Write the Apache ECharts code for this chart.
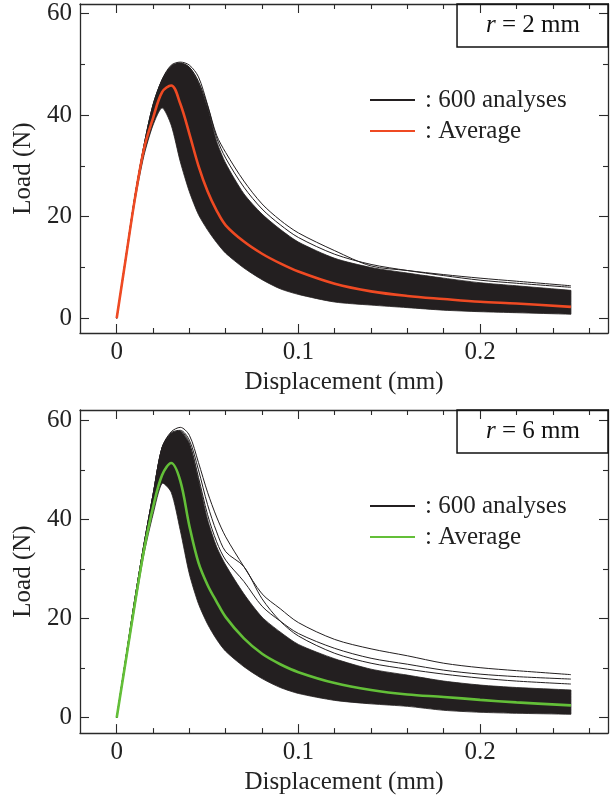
<!DOCTYPE html>
<html><head><meta charset="utf-8">
<script src="https://cdn.jsdelivr.net/npm/echarts@6/dist/echarts.min.js"></script>
<style>html,body{margin:0;padding:0;background:#fff}#c1,#c2{width:613px;height:400px}</style>
</head><body><div id="c1"></div><div id="c2"></div>
<script>
// ---- data ----
const xGrid = [0, 0.005, 0.01, 0.015, 0.02, 0.025, 0.03, 0.035, 0.04, 0.045, 0.05, 0.055, 0.06, 0.07, 0.08, 0.09, 0.10, 0.12, 0.14, 0.16, 0.18, 0.20, 0.22, 0.25];
const xTickMajor = [0, 0.1, 0.2];
const xTickMinor = [0.02, 0.04, 0.06, 0.08, 0.12, 0.14, 0.16, 0.18, 0.22, 0.24, 0.26];
const yTickMajor = [0, 20, 40, 60];
const yTickMinor = [10, 30, 50];

// r = 2 mm
const r2Average  = [0, 11.8, 23.5, 33.3, 39.4, 44.5, 45.8, 42.2, 36.3, 30.0, 25.0, 21.2, 18.3, 15.1, 12.7, 10.8, 9.2, 6.8, 5.3, 4.4, 3.8, 3.25, 2.9, 2.25];
const r2BandLow  = [0, 11.5, 23.0, 32.0, 38.0, 41.4, 38.0, 30.8, 24.9, 20.4, 17.4, 14.9, 12.8, 9.9, 7.6, 5.8, 4.7, 3.2, 2.6, 2.1, 1.6, 1.3, 1.1, 0.8];
const r2BandHigh = [0, 12.0, 24.0, 34.0, 42.0, 46.9, 49.6, 50.2, 49.4, 46.4, 41.5, 34.8, 30.5, 24.5, 20.5, 17.5, 15.0, 11.8, 10.0, 8.9, 7.9, 7.0, 6.4, 5.5];
const r2RunA     = [0, 12.0, 24.0, 34.0, 42.0, 47.0, 49.8, 50.4, 49.8, 47.5, 42.0, 36.0, 32.6, 27.0, 22.5, 19.3, 16.8, 13.3, 10.3, 9.4, 8.6, 7.9, 7.3, 6.4];
const r2RunB     = [0, 12.0, 24.0, 34.0, 42.0, 46.9, 49.6, 50.2, 49.4, 46.6, 41.8, 35.5, 31.5, 25.8, 21.5, 18.4, 15.9, 12.6, 10.6, 9.4, 8.4, 7.5, 6.9, 6.1];

// r = 6 mm
const r6Average  = [0, 11.5, 23.0, 33.8, 42.5, 49.0, 51.4, 47.8, 38.7, 31.3, 26.8, 23.4, 20.3, 16.0, 12.9, 10.8, 9.2, 7.0, 5.6, 4.7, 4.2, 3.6, 3.1, 2.5];
const r6BandLow  = [0, 11.2, 22.5, 33.0, 41.0, 47.3, 45.5, 37.8, 29.0, 23.0, 18.9, 15.8, 13.4, 10.3, 7.9, 6.1, 4.9, 3.5, 2.8, 2.3, 1.5, 1.1, 0.9, 0.7];
const r6BandHigh = [0, 12.0, 24.0, 35.0, 45.0, 54.5, 57.3, 57.8, 55.2, 48.0, 40.0, 34.5, 30.8, 25.0, 20.3, 17.3, 14.8, 11.9, 9.8, 8.6, 7.4, 6.6, 6.1, 5.6];
const r6RunA     = [0, 12.0, 24.0, 35.0, 45.0, 54.6, 57.7, 58.6, 57.0, 51.5, 45.5, 40.5, 36.5, 30.5, 25.0, 22.0, 19.2, 15.8, 13.9, 12.5, 11.0, 10.1, 9.5, 8.7];
const r6RunB     = [0, 12.0, 24.0, 35.0, 45.0, 54.5, 57.5, 58.0, 56.0, 50.0, 43.0, 37.5, 33.5, 30.5, 24.0, 19.5, 16.5, 13.0, 11.0, 9.8, 8.8, 8.0, 7.4, 6.8];
const r6RunC     = [0, 12.0, 24.0, 35.0, 45.0, 54.5, 57.3, 57.8, 55.4, 48.5, 41.0, 35.5, 31.8, 27.5, 22.5, 19.5, 17.0, 14.0, 12.0, 10.8, 9.6, 8.8, 8.3, 7.8];

const FONT = 'Liberation Serif';
const FS = 25;
const AX = '#2a2a2a';
const DARK = '#231f20';

function pairs(ys) { return xGrid.map((x, i) => [x, ys[i]]); }

function axes(dir, min, max, major, minor, name, nameGap) {
  const base = { type: 'value', min: min, max: max, splitLine: { show: false }, gridIndex: 0 };
  const pos = dir === 'x' ? ['bottom', 'top'] : ['left', 'right'];
  const out = [];
  pos.forEach((p, k) => {
    out.push(Object.assign({}, base, {
      position: p,
      axisLine: { show: true, onZero: false, lineStyle: { color: AX, width: 1.3 } },
      axisTick: { show: true, inside: true, length: 9, customValues: major, lineStyle: { color: AX, width: 1.1 } },
      axisLabel: k === 0 ? { show: true, customValues: major, margin: dir === 'x' ? 7 : 8, fontFamily: FONT, fontSize: FS, color: '#222', formatter: v => String(v) } : { show: false },
      name: k === 0 ? name : '',
      nameLocation: 'middle',
      nameGap: nameGap,
      nameTextStyle: { fontFamily: FONT, fontSize: FS, color: '#222' }
    }));
    out.push(Object.assign({}, base, {
      position: p,
      axisLine: { show: false, onZero: false },
      axisTick: { show: true, inside: true, length: 5, customValues: minor, lineStyle: { color: AX, width: 1.1 } },
      axisLabel: { show: false }
    }));
  });
  return out;
}

function build(el, cfg) {
  const chart = echarts.init(document.getElementById(el), null, { renderer: 'canvas' });
  const thin = (ys) => ({
    type: 'line', name: '600 analyses', data: pairs(ys), xAxisIndex: 0, yAxisIndex: 0,
    symbol: 'none', smooth: 0.3, lineStyle: { color: DARK, width: 1 }, itemStyle: { color: DARK }, z: 3, silent: true
  });
  const series = [];
  cfg.runs.forEach(r => series.push(thin(r)));
  series.push({
    type: 'custom', name: '600 analyses', coordinateSystem: 'cartesian2d', xAxisIndex: 0, yAxisIndex: 0,
    data: [[0, 0]], silent: true, z: 2, clip: true,
    renderItem: function (params, api) {
      const up = xGrid.map((x, i) => api.coord([x, cfg.high[i]]));
      const lo = xGrid.map((x, i) => api.coord([x, cfg.low[i]])).slice(1).reverse();
      // repeat the two end corners so the smoothed outline keeps a straight cut at the last x
      const pts = up.concat([up[up.length - 1]], [lo[0]], lo);
      return {
        type: 'polygon',
        shape: { points: pts, smooth: 0.25 },
        style: { fill: DARK, stroke: DARK, lineWidth: 0.8 }
      };
    }
  });
  series.push({
    type: 'line', name: 'Average', data: pairs(cfg.avg), xAxisIndex: 0, yAxisIndex: 0,
    symbol: 'none', smooth: 0.35, lineStyle: { color: cfg.color, width: 2.6 }, itemStyle: { color: cfg.color }, z: 5, silent: true
  });
  chart.setOption({
    animation: false,
    backgroundColor: '#fff',
    grid: { left: 80, width: 528, top: cfg.top, height: cfg.height },
    xAxis: axes('x', -0.0202, 0.2704, xTickMajor, xTickMinor, 'Displacement (mm)', 33),
    yAxis: axes('y', cfg.ymin, cfg.ymax, yTickMajor, yTickMinor, 'Load (N)', 36),
    title: {
      text: '{i|r} = ' + cfg.rValue + ' mm',
      right: 5, top: cfg.top,
      padding: [9, 28, 9, 29],
      borderColor: '#111', borderWidth: 1.5,
      textStyle: { fontFamily: FONT, fontSize: FS, fontWeight: 'normal', color: '#111', lineHeight: 25,
        rich: { i: { fontFamily: FONT, fontSize: FS, fontStyle: 'italic', color: '#111', lineHeight: 25 } } }
    },
    legend: {
      orient: 'vertical', left: 369, top: cfg.legendTop, padding: 0,
      itemWidth: 45, itemHeight: 12, itemGap: 6, selectedMode: false,
      itemStyle: { opacity: 0 },
      data: ['600 analyses', 'Average'],
      formatter: n => ': ' + n,
      textStyle: { fontFamily: FONT, fontSize: FS, color: '#222', lineHeight: 25, padding: [0, 0, 0, 5] }
    },
    series: series
  });
}

build('c1', { top: 4, height: 329, ymin: -2.89, ymax: 61.83, low: r2BandLow, high: r2BandHigh, runs: [r2RunA, r2RunB], avg: r2Average, color: '#ef4a23', rValue: '2', legendTop: 87.5 });
build('c2', { top: 10, height: 331, ymin: -3.1, ymax: 62.1, low: r6BandLow, high: r6BandHigh, runs: [r6RunA, r6RunB, r6RunC], avg: r6Average, color: '#63bf38', rValue: '6', legendTop: 93.5 });
</script>
</body></html>
